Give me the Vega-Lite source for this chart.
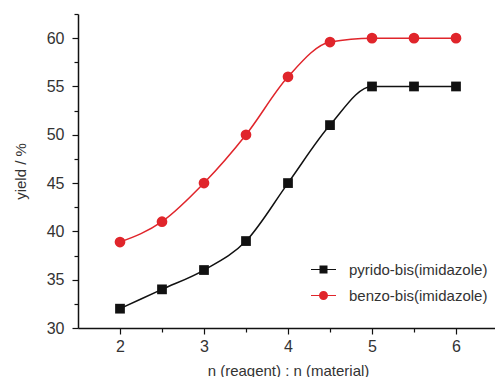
{
  "$schema": "https://vega.github.io/schema/vega-lite/v6.json",
  "width": 420,
  "height": 314,
  "autosize": {"type": "none"},
  "padding": {"left": 78, "top": 14, "right": 0, "bottom": 49},
  "background": "white",
  "config": {
    "view": {"stroke": null},
    "font": "Liberation Sans",
    "axis": {
      "domainColor": "#111",
      "domainWidth": 1.5,
      "tickColor": "#111",
      "tickWidth": 1.2,
      "grid": false,
      "labelFont": "Liberation Sans",
      "labelFontSize": 16,
      "labelColor": "#333",
      "titleFont": "Liberation Sans",
      "titleFontSize": 15,
      "titleFontWeight": "normal",
      "titleColor": "#333",
      "labelOverlap": false
    }
  },
  "data": {
    "values": [
      {"ratio": 2, "yield": 32, "series": "pyrido-bis(imidazole)"},
      {"ratio": 2.5, "yield": 34, "series": "pyrido-bis(imidazole)"},
      {"ratio": 3, "yield": 36, "series": "pyrido-bis(imidazole)"},
      {"ratio": 3.5, "yield": 39, "series": "pyrido-bis(imidazole)"},
      {"ratio": 4, "yield": 45, "series": "pyrido-bis(imidazole)"},
      {"ratio": 4.5, "yield": 51, "series": "pyrido-bis(imidazole)"},
      {"ratio": 5, "yield": 55, "series": "pyrido-bis(imidazole)"},
      {"ratio": 5.5, "yield": 55, "series": "pyrido-bis(imidazole)"},
      {"ratio": 6, "yield": 55, "series": "pyrido-bis(imidazole)"},
      {"ratio": 2, "yield": 38.9, "series": "benzo-bis(imidazole)"},
      {"ratio": 2.5, "yield": 41, "series": "benzo-bis(imidazole)"},
      {"ratio": 3, "yield": 45, "series": "benzo-bis(imidazole)"},
      {"ratio": 3.5, "yield": 50, "series": "benzo-bis(imidazole)"},
      {"ratio": 4, "yield": 56, "series": "benzo-bis(imidazole)"},
      {"ratio": 4.5, "yield": 59.6, "series": "benzo-bis(imidazole)"},
      {"ratio": 5, "yield": 60, "series": "benzo-bis(imidazole)"},
      {"ratio": 5.5, "yield": 60, "series": "benzo-bis(imidazole)"},
      {"ratio": 6, "yield": 60, "series": "benzo-bis(imidazole)"}
    ]
  },
  "encoding": {
    "x": {
      "field": "ratio",
      "type": "quantitative",
      "scale": {"domain": [1.5, 6.5], "nice": false, "zero": false},
      "axis": {
        "title": "n (reagent) : n (material)",
        "values": [2, 2.5, 3, 3.5, 4, 4.5, 5, 5.5, 6],
        "labelExpr": "datum.value % 1 === 0 ? format(datum.value, 'd') : ''",
        "tickSize": {"condition": {"test": "datum.value % 1 === 0", "value": 6}, "value": 4},
        "labelPadding": 4,
        "titlePadding": 9
      }
    },
    "y": {
      "field": "yield",
      "type": "quantitative",
      "scale": {"domain": [30, 62.5], "nice": false, "zero": false},
      "axis": {
        "title": "yield / %",
        "values": [30, 32.5, 35, 37.5, 40, 42.5, 45, 47.5, 50, 52.5, 55, 57.5, 60, 62.5],
        "labelExpr": "datum.value % 5 === 0 ? format(datum.value, 'd') : ''",
        "tickSize": {"condition": {"test": "datum.value % 5 === 0", "value": 6}, "value": 4},
        "labelPadding": 8,
        "titlePadding": 18
      }
    }
  },
  "layer": [
    {
      "transform": [{"filter": "datum.series === 'pyrido-bis(imidazole)'"}],
      "mark": {"type": "line", "interpolate": "monotone", "color": "#111", "strokeWidth": 1.5}
    },
    {
      "transform": [{"filter": "datum.series === 'benzo-bis(imidazole)'"}],
      "mark": {"type": "line", "interpolate": "monotone", "color": "#e0252b", "strokeWidth": 1.5}
    },
    {
      "transform": [{"filter": "datum.series === 'pyrido-bis(imidazole)'"}],
      "mark": {"type": "point", "shape": "square", "filled": true, "color": "#111", "size": 95, "opacity": 1}
    },
    {
      "transform": [{"filter": "datum.series === 'benzo-bis(imidazole)'"}],
      "mark": {"type": "point", "shape": "circle", "filled": true, "color": "#e0252b", "size": 115, "opacity": 1}
    },
    {
      "transform": [{"filter": "false"}],
      "mark": {"type": "point", "filled": true, "opacity": 1},
      "encoding": {
        "color": {
          "field": "series",
          "type": "nominal",
          "scale": {"domain": ["pyrido-bis(imidazole)", "benzo-bis(imidazole)"], "range": ["#111", "#e0252b"]},
          "legend": {
            "title": null,
            "orient": "none",
            "legendX": 238,
            "legendY": 248,
            "padding": 0,
            "labelFont": "Liberation Sans",
            "labelFontSize": 15,
            "labelColor": "#333",
            "labelOffset": 18,
            "rowPadding": 10,
            "symbolSize": 100,
            "symbolStrokeWidth": 0,
            "symbolOpacity": 1
          }
        },
        "shape": {
          "field": "series",
          "type": "nominal",
          "scale": {
            "domain": ["pyrido-bis(imidazole)", "benzo-bis(imidazole)"],
            "range": [
              "M-2.5,-0.1H2.5V0.1H-2.5Z M-0.8,-0.8H0.8V0.8H-0.8Z",
              "M-2.5,-0.1H2.5V0.1H-2.5Z M0.9,0 A0.9,0.9 0 1,1 -0.9,0 A0.9,0.9 0 1,1 0.9,0Z"
            ]
          },
          "legend": {
            "title": null,
            "orient": "none",
            "legendX": 238,
            "legendY": 248,
            "padding": 0,
            "labelFont": "Liberation Sans",
            "labelFontSize": 15,
            "labelColor": "#333",
            "labelOffset": 18,
            "rowPadding": 10,
            "symbolSize": 100,
            "symbolStrokeWidth": 0,
            "symbolOpacity": 1
          }
        }
      }
    }
  ]
}
